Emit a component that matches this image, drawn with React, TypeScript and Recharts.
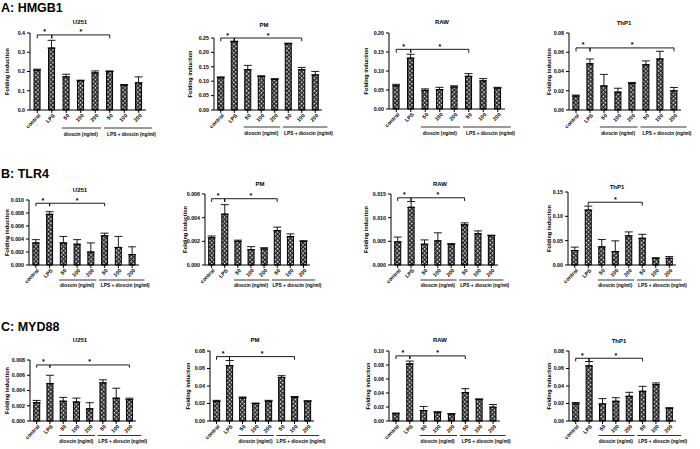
import React from 'react'
import { BarChart, Bar, XAxis, YAxis, ErrorBar, ReferenceLine } from 'recharts'

const categories = ['control', 'LPS', '50', '100', '200', '50', '100', '200']
const catKeys = ['control', 'LPS', 'd50', 'd100', 'd200', 'l50', 'l100', 'l200']
const groupLabels = ['dioscin (ng/ml)', 'LPS + dioscin (ng/ml)']
const rowTitles = ['A: HMGB1', 'B: TLR4', 'C: MYD88']

// A: HMGB1
const hmgb1U251 = [0.207, 0.322, 0.172, 0.152, 0.193, 0.2, 0.129, 0.141]
const hmgb1U251Err = [0.005, 0.04, 0.014, 0.003, 0.01, 0.003, 0.003, 0.031]
const hmgb1PM = [0.112, 0.237, 0.14, 0.116, 0.106, 0.23, 0.14, 0.122]
const hmgb1PMErr = [0.003, 0.002, 0.015, 0.003, 0.003, 0.002, 0.008, 0.012]
const hmgb1RAW = [0.061, 0.134, 0.049, 0.051, 0.058, 0.086, 0.074, 0.055]
const hmgb1RAWErr = [0.004, 0.01, 0.004, 0.006, 0.003, 0.007, 0.006, 0.002]
const hmgb1ThP1 = [0.0145, 0.048, 0.025, 0.0186, 0.0276, 0.047, 0.053, 0.02]
const hmgb1ThP1Err = [0.001, 0.005, 0.012, 0.004, 0.001, 0.004, 0.008, 0.0034]

// B: TLR4
const tlr4U251 = [0.0034, 0.0078, 0.0034, 0.0032, 0.002, 0.0045, 0.0027, 0.0016]
const tlr4U251Err = [0.0005, 0.0004, 0.001, 0.0007, 0.0014, 0.0004, 0.0017, 0.0012]
const tlr4PM = [0.0023, 0.0043, 0.002, 0.0013, 0.00136, 0.0029, 0.0024, 0.002]
const tlr4PMErr = [0.00015, 0.0008, 0.0001, 0.00025, 0.0001, 0.0003, 0.00023, 0.00005]
const tlr4RAW = [0.0049, 0.0122, 0.0044, 0.0051, 0.0044, 0.0085, 0.0066, 0.0062]
const tlr4RAWErr = [0.001, 0.0012, 0.0009, 0.0017, 0.0001, 0.0004, 0.0006, 0.0001]
const tlr4ThP1 = [0.0297, 0.113, 0.0373, 0.0276, 0.06, 0.055, 0.0138, 0.0138]
const tlr4ThP1Err = [0.007, 0.008, 0.015, 0.022, 0.008, 0.008, 0.001, 0.0035]

// C: MYD88
const myd88U251 = [0.0024, 0.0049, 0.0026, 0.0025, 0.0016, 0.005, 0.003, 0.0028]
const myd88U251Err = [0.0003, 0.0011, 0.0005, 0.0005, 0.0008, 0.0004, 0.0013, 0.0002]
const myd88PM = [0.0226, 0.0634, 0.0264, 0.02, 0.0226, 0.0498, 0.027, 0.0223]
const myd88PMErr = [0.001, 0.0057, 0.001, 0.0005, 0.001, 0.002, 0.001, 0.001]
const myd88RAW = [0.0104, 0.0816, 0.015, 0.0123, 0.0099, 0.0406, 0.0307, 0.0198]
const myd88RAWErr = [0.001, 0.004, 0.0058, 0.001, 0.0005, 0.0056, 0.001, 0.0038]
const myd88ThP1 = [0.0196, 0.063, 0.0196, 0.0226, 0.0283, 0.034, 0.0415, 0.0143]
const myd88ThP1Err = [0.0015, 0.005, 0.006, 0.004, 0.0045, 0.0056, 0.002, 0.001]

// y ticks
const ticksA1 = [0, 0.1, 0.2, 0.3, 0.4]
const ticksA2 = [0, 0.05, 0.1, 0.15, 0.2, 0.25]
const ticksA3 = [0, 0.05, 0.1, 0.15, 0.2]
const ticksA4 = [0, 0.02, 0.04, 0.06, 0.08]
const ticksB1 = [0, 0.002, 0.004, 0.006, 0.008, 0.01]
const ticksB2 = [0, 0.002, 0.004, 0.006]
const ticksB3 = [0, 0.005, 0.01, 0.015]
const ticksB4 = [0, 0.05, 0.1, 0.15]
const ticksC1 = [0, 0.002, 0.004, 0.006, 0.008]
const ticksC2 = [0, 0.02, 0.04, 0.06, 0.08]
const ticksC3 = [0, 0.02, 0.04, 0.06, 0.08, 0.1]
const ticksC4 = [0, 0.02, 0.04, 0.06, 0.08]

// significance brackets: [from, to] category index, and bracket height
const sigA1 = [[0, 1], [1, 5]]
const sigA2 = [[0, 1], [1, 6]]
const sigA3 = [[0, 1], [1, 5]]
const sigA4 = [[0, 1], [1, 7]]
const sigB1 = [[0, 1], [1, 5]]
const sigB2 = [[0, 1], [1, 5]]
const sigB3 = [[0, 1], [1, 5]]
const sigB4 = [[1, 5]]
const sigC1 = [[0, 1], [1, 7]]
const sigC2 = [[0, 1], [1, 6]]
const sigC3 = [[0, 1], [1, 5]]
const sigC4 = [[0, 1], [1, 5]]
const sigHeights = [0.39, 0.25, 0.157, 0.0645, 0.0095, 0.0056, 0.0142, 0.129, 0.00735, 0.0736, 0.093, 0.0717]

const FONT = 'Arial, "Liberation Sans", sans-serif'
const MT = 14
const MB = 40
const MR = 20

const panels = [
  { id: 'a1', title: 'U251', means: hmgb1U251, errs: hmgb1U251Err, ticks: ticksA1, digits: 1, sig: sigA1, labelX: 7, axisX: 30, right: 146, top: 33, bottom: 110, titleX: 80, titleY: 24, lineOff: 18, textOff: 26 },
  { id: 'a2', title: 'PM', means: hmgb1PM, errs: hmgb1PMErr, ticks: ticksA2, digits: 2, sig: sigA2, labelX: 190, axisX: 214, right: 322, top: 38, bottom: 110, titleX: 264, titleY: 27, lineOff: 17, textOff: 24.5 },
  { id: 'a3', title: 'RAW', means: hmgb1RAW, errs: hmgb1RAWErr, ticks: ticksA3, digits: 2, sig: sigA3, labelX: 366, axisX: 389, right: 505, top: 33, bottom: 109, titleX: 442, titleY: 24, lineOff: 18, textOff: 26 },
  { id: 'a4', title: 'ThP1', means: hmgb1ThP1, errs: hmgb1ThP1Err, ticks: ticksA4, digits: 2, sig: sigA4, labelX: 549, axisX: 569, right: 681, top: 33, bottom: 110, titleX: 624, titleY: 25, lineOff: 17, textOff: 25 },
  { id: 'b1', title: 'U251', means: tlr4U251, errs: tlr4U251Err, ticks: ticksB1, digits: 3, sig: sigB1, labelX: 7, axisX: 29, right: 139, top: 200, bottom: 265, titleX: 80, titleY: 192, lineOff: 15, textOff: 22 },
  { id: 'b2', title: 'PM', means: tlr4PM, errs: tlr4PMErr, ticks: ticksB2, digits: 3, sig: sigB2, labelX: 185, axisX: 205, right: 310, top: 194, bottom: 265, titleX: 260, titleY: 186, lineOff: 15, textOff: 22 },
  { id: 'b3', title: 'RAW', means: tlr4RAW, errs: tlr4RAWErr, ticks: ticksB3, digits: 3, sig: sigB3, labelX: 366, axisX: 391, right: 498, top: 194, bottom: 265, titleX: 440, titleY: 186, lineOff: 15, textOff: 22 },
  { id: 'b4', title: 'ThP1', means: tlr4ThP1, errs: tlr4ThP1Err, ticks: ticksB4, digits: 2, sig: sigB4, labelX: 549, axisX: 568, right: 676, top: 192, bottom: 265, titleX: 617, titleY: 188.5, lineOff: 15, textOff: 22 },
  { id: 'c1', title: 'U251', means: myd88U251, errs: myd88U251Err, ticks: ticksC1, digits: 3, sig: sigC1, labelX: 7, axisX: 30, right: 136, top: 360, bottom: 421, titleX: 80, titleY: 342, lineOff: 14.5, textOff: 22 },
  { id: 'c2', title: 'PM', means: myd88PM, errs: myd88PMErr, ticks: ticksC2, digits: 2, sig: sigC2, labelX: 188, axisX: 210, right: 314, top: 351, bottom: 421, titleX: 255, titleY: 342, lineOff: 14.5, textOff: 22 },
  { id: 'c3', title: 'RAW', means: myd88RAW, errs: myd88RAWErr, ticks: ticksC3, digits: 2, sig: sigC3, labelX: 368, axisX: 389, right: 500, top: 351, bottom: 421, titleX: 440, titleY: 342, lineOff: 14.5, textOff: 22 },
  { id: 'c4', title: 'ThP1', means: myd88ThP1, errs: myd88ThP1Err, ticks: ticksC4, digits: 2, sig: sigC4, labelX: 549, axisX: 569, right: 676, top: 351, bottom: 421, titleX: 619, titleY: 343, lineOff: 14.5, textOff: 22 },
]

const makeXTick = (axisY: number, bw: number, lineOff: number, textOff: number) => (props: any) => {
  const { x, payload } = props
  const i = catKeys.indexOf(payload.value)
  const px = x + 3.5
  const py = axisY + 6
  const ly = axisY + lineOff
  return (
    <g>
      <text x={px} y={py} transform={`rotate(-45 ${px} ${py})`} textAnchor="end" fontSize={5.3} fontWeight="bold" fill="#000" fontFamily={FONT}>
        {categories[i]}
      </text>
      {i === 2 && (
        <g>
          <line x1={x - 0.3 * bw} x2={x + 2.4 * bw} y1={ly} y2={ly} stroke="#000" strokeWidth={0.8} />
          <text x={x + bw} y={axisY + textOff} textAnchor="middle" fontSize={4.8} fontWeight="bold" fill="#000" fontFamily={FONT}>{groupLabels[0]}</text>
        </g>
      )}
      {i === 5 && (
        <g>
          <line x1={x - 0.4 * bw} x2={x + 2.9 * bw} y1={ly} y2={ly} stroke="#000" strokeWidth={0.8} />
          <text x={x + 1.5 * bw} y={axisY + textOff} textAnchor="middle" fontSize={4.8} fontWeight="bold" fill="#000" fontFamily={FONT}>{groupLabels[1]}</text>
        </g>
      )}
    </g>
  )
}

function Panel({ p, idx }: { p: any; idx: number }) {
  const left = p.labelX - 5
  const width = p.right + MR - left
  const plotH = p.bottom - p.top
  const height = MT + plotH + MB
  const yAxisW = p.axisX - left
  const bw = (p.right - p.axisX) / catKeys.length
  const axisY = MT + plotH
  const yMax = p.ticks[p.ticks.length - 1]
  const by = sigHeights[idx]
  const tickLen = yMax * 0.045
  const pid = 'hatch-' + p.id
  const rows = catKeys.map((k, i) => ({ key: k, value: p.means[i], errRange: [0, p.errs[i]] }))

  return (
    <div style={{ position: 'absolute', left, top: p.top - MT }}>
      <BarChart width={width} height={height} data={rows} margin={{ top: MT, right: MR, bottom: 0, left: 0 }} barCategoryGap="28%">
        <defs>
          <pattern id={pid} width="3" height="3" patternUnits="userSpaceOnUse" patternTransform="rotate(45)">
            <rect width="3" height="3" fill="#262626" />
            <rect width="1.5" height="1.5" fill="#ffffff" />
          </pattern>
        </defs>
        <XAxis
          dataKey="key"
          interval={0}
          tickSize={3}
          height={MB}
          axisLine={{ stroke: '#000', strokeWidth: 1 }}
          tickLine={{ stroke: '#000' }}
          tick={makeXTick(axisY, bw, p.lineOff, p.textOff)}
        />
        <YAxis
          width={yAxisW}
          domain={[0, yMax]}
          ticks={p.ticks}
          interval={0}
          tickSize={3}
          tickFormatter={(v: number) => v.toFixed(p.digits)}
          axisLine={{ stroke: '#000', strokeWidth: 1 }}
          tickLine={{ stroke: '#000' }}
          tick={{ fontSize: 5.3, fontWeight: 'bold', fill: '#000', fontFamily: FONT }}
          label={{
            content: () => (
              <text
                x={5}
                y={MT + plotH / 2}
                transform={`rotate(-90 5 ${MT + plotH / 2})`}
                textAnchor="middle"
                dominantBaseline="central"
                fontSize={5.6}
                fontWeight="bold"
                fill="#000"
                fontFamily={FONT}
              >
                Folding induction
              </text>
            ),
          }}
        />
        <Bar dataKey="value" fill={`url(#${pid})`} stroke="#000" strokeWidth={1} isAnimationActive={false}>
          <ErrorBar dataKey="errRange" width={4} stroke="#000" strokeWidth={0.9} direction="y" />
        </Bar>
        {p.sig.map(([a, b]: number[], k: number) => (
          <ReferenceLine
            key={`h${k}`}
            segment={[{ x: catKeys[a], y: by }, { x: catKeys[b], y: by }]}
            stroke="#000"
            strokeWidth={0.9}
            ifOverflow="visible"
            label={{ value: '*', position: 'top', offset: 0.5, fontSize: 7, fontWeight: 'bold', fill: '#000', fontFamily: FONT }}
          />
        ))}
        {p.sig.flatMap(([a, b]: number[], k: number) => [a, b].map((c, j) => (
          <ReferenceLine
            key={`v${k}-${j}`}
            segment={[{ x: catKeys[c], y: by }, { x: catKeys[c], y: by - tickLen }]}
            stroke="#000"
            strokeWidth={0.9}
            ifOverflow="visible"
          />
        )))}
      </BarChart>
    </div>
  )
}

export default function App() {
  return (
    <div style={{ position: 'absolute', left: 0, top: 0, width: 700, height: 449, background: '#fff', overflow: 'hidden', fontFamily: FONT }}>
      <svg width={700} height={449} style={{ position: 'absolute', left: 0, top: 0 }}>
        <text x={1} y={12} fontSize={12.5} fontWeight="bold" fill="#000" fontFamily={FONT}>{rowTitles[0]}</text>
        <text x={1} y={178} fontSize={12.5} fontWeight="bold" fill="#000" fontFamily={FONT}>{rowTitles[1]}</text>
        <text x={1} y={331} fontSize={12.5} fontWeight="bold" fill="#000" fontFamily={FONT}>{rowTitles[2]}</text>
        {panels.map((p) => (
          <text key={p.id} x={p.titleX} y={p.titleY} textAnchor="middle" fontSize={6} fontWeight="bold" fill="#000" fontFamily={FONT}>
            {p.title}
          </text>
        ))}
      </svg>
      {panels.map((p, i) => (
        <Panel key={p.id} p={p} idx={i} />
      ))}
    </div>
  )
}
